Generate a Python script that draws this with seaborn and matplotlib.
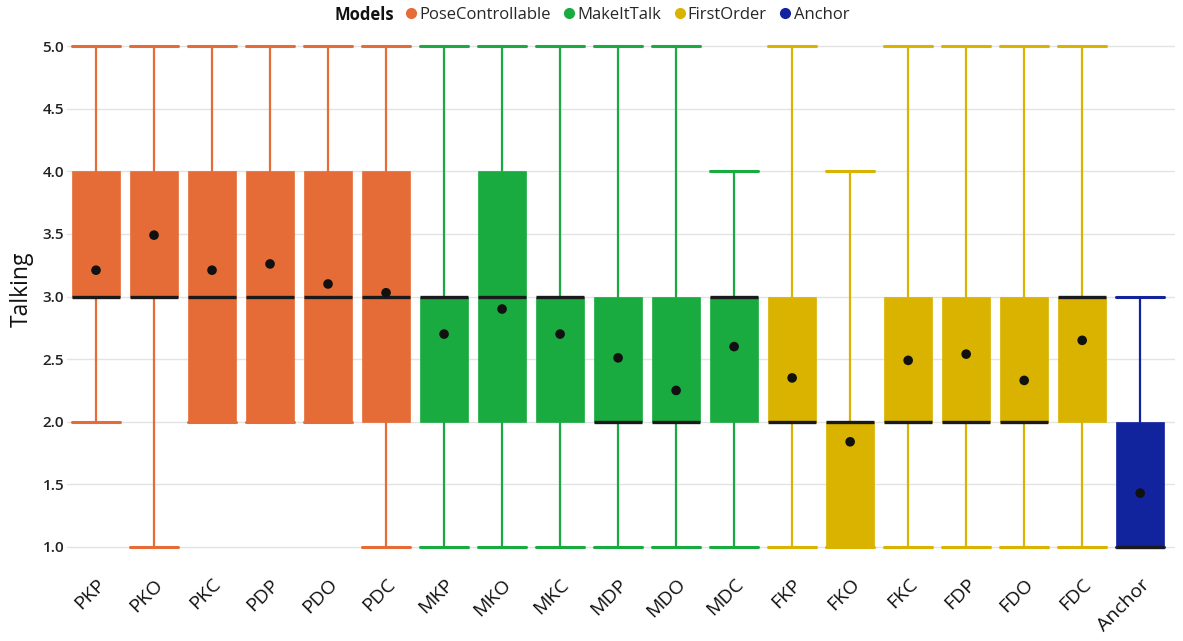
import numpy as np
import pandas as pd
import matplotlib.pyplot as plt
import seaborn as sns
from matplotlib.lines import Line2D

# box stats
labels = ["PKP", "PKO", "PKC", "PDP", "PDO", "PDC",
          "MKP", "MKO", "MKC", "MDP", "MDO", "MDC",
          "FKP", "FKO", "FKC", "FDP", "FDO", "FDC", "Anchor"]
models = ["PoseControllable"] * 6 + ["MakeItTalk"] * 6 + ["FirstOrder"] * 6 + ["Anchor"]
mins = [2, 1, 2, 2, 2, 1, 1, 1, 1, 1, 1, 1, 1, 1, 1, 1, 1, 1, 1]
q1s = [3, 3, 2, 2, 2, 2, 2, 2, 2, 2, 2, 2, 2, 1, 2, 2, 2, 2, 1]
medians = [3, 3, 3, 3, 3, 3, 3, 3, 3, 2, 2, 3, 2, 2, 2, 2, 2, 3, 1]
q3s = [4, 4, 4, 4, 4, 4, 3, 4, 3, 3, 3, 3, 3, 2, 3, 3, 3, 3, 2]
maxs = [5, 5, 5, 5, 5, 5, 5, 5, 5, 5, 5, 4, 5, 4, 5, 5, 5, 5, 3]
means = [3.21, 3.49, 3.21, 3.26, 3.10, 3.03, 2.70, 2.90, 2.70, 2.51, 2.25, 2.60,
         2.35, 1.84, 2.49, 2.54, 2.33, 2.65, 1.43]

palette = {"PoseControllable": "#E66C37", "MakeItTalk": "#1AAB40",
           "FirstOrder": "#D9B300", "Anchor": "#12239E"}

sns.set_theme(style="whitegrid")
plt.rcParams["font.family"] = ["Open Sans", "DejaVu Sans"]

fig = plt.figure(figsize=(11.83, 6.41), dpi=100)
ax = fig.add_axes([67 / 1183, 1 - 553 / 641, (1175 - 67) / 1183, 513 / 641])

stats = []
for i, lab in enumerate(labels):
    stats.append(dict(label=lab, whislo=mins[i], q1=q1s[i], med=medians[i],
                      q3=q3s[i], whishi=maxs[i], fliers=[]))

width = 0.83
for i, s in enumerate(stats):
    c = palette[models[i]]
    ax.bxp([s], positions=[i], widths=width, patch_artist=True, showfliers=False,
           boxprops=dict(facecolor=c, edgecolor=c, linewidth=0.5),
           whiskerprops=dict(color=c, linewidth=1.6),
           capprops=dict(color=c, linewidth=2.2),
           capwidths=width,
           medianprops=dict(color="#1a1a1a", linewidth=2.4, solid_capstyle="butt"))

df = pd.DataFrame({"x": np.arange(len(labels)), "mean": means})
sns.scatterplot(data=df, x="x", y="mean", color="#111111", s=48, edgecolor="none",
                ax=ax, zorder=5)

ax.set_xlim(-0.5, 18.6)
ax.set_ylim(0.952, 5.048)
yt = np.arange(1.0, 5.01, 0.5)
ax.set_yticks(yt)
ax.set_yticklabels([f"{v:.1f}" for v in yt],
                   fontsize=11, fontweight="semibold", color="#222222")
ax.set_xticks(range(len(labels)))
ax.set_xticklabels(labels, rotation=45, ha="right", rotation_mode="anchor",
                   fontsize=14, color="#111111")
ax.tick_params(axis="x", length=0, pad=16)
ax.tick_params(axis="y", length=0, pad=2)
ax.grid(axis="x", visible=False)
ax.grid(axis="y", color="#e3e3e3", linewidth=1)
for sp in ax.spines.values():
    sp.set_visible(False)
ax.set_xlabel("")
ax.set_ylabel("Talking", fontsize=16.5, color="#111111", labelpad=6, y=0.515)

handles = [Line2D([], [], marker="o", linestyle="", color=palette[m], markersize=7)
           for m in palette]
fig.legend(handles, list(palette), loc="center left", bbox_to_anchor=(0.336, 0.977),
           ncol=4, frameon=False, fontsize=12, handletextpad=-0.1,
           columnspacing=0.5, handlelength=1.2, borderpad=0.2, borderaxespad=0)
fig.text(0.283, 0.977, "Models", fontsize=12, fontweight="bold", va="center",
         ha="left", color="#111111")

fig.savefig("out.png", dpi=100)
